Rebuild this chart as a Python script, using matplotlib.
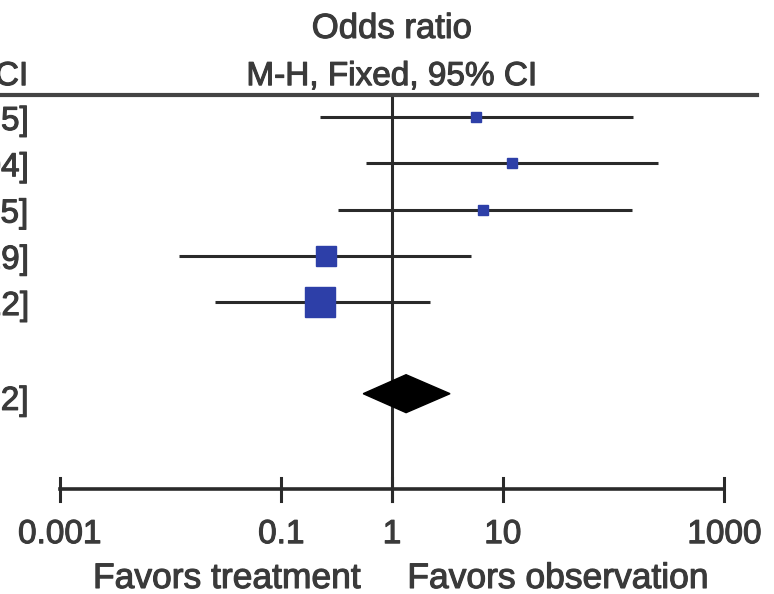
import matplotlib
matplotlib.use("Agg")
import matplotlib.pyplot as plt
from matplotlib.patches import Polygon
import matplotlib.patheffects as pe

# ---- data ----
estimates = [5.73, 12.1, 6.63, 0.254, 0.224]
ci_low = [0.224, 0.58, 0.326, 0.012, 0.0253]
ci_high = [150.0, 250.0, 147.0, 5.16, 2.2]
row_labels = ["5.73 [0.22, 148.25]", "12.10 [0.58, 249.04]", "6.63 [0.33, 146.35]",
              "0.25 [0.01, 5.19]", "0.22 [0.03, 2.22]"]
pooled = (1.34, 0.55, 3.34)
pooled_label = "1.34 [0.55, 3.32]"
tick_values = [0.001, 0.1, 1, 10, 1000]
tick_labels = ["0.001", "0.1", "1", "10", "1000"]
header_top = "Odds ratio"
header_sub = "M-H, Fixed, 95% CI"
left_header = "M-H, Fixed, 95% CI"
favors_left = "Favors treatment"
favors_right = "Favors observation"

# ---- style ----
marker_sizes = [6.5, 6.5, 6.5, 14.5, 22]
line_col = "#2a2a2a"
text_col = "#3a3a3a"
blue = "#2d3fa8"
font = "Liberation Sans"
fs = 24
effects = [pe.withStroke(linewidth=0.8, foreground=text_col)]
tkw = dict(fontsize=fs, color=text_col, family=font, path_effects=effects)
fkw = dict(tkw, fontsize=25.5)
hkw = dict(tkw, fontsize=25)

fig = plt.figure(figsize=(7.74, 5.94), dpi=100)
ax = fig.add_axes([0, 0, 1, 1])
ax.set_xscale("log")
ax.set_xlim(10 ** -3.538, 10 ** 3.448)
ax.set_ylim(10.31, -2.53)
ax.axis("off")
ytr = ax.get_yaxis_transform()

# rows
for i, (e, lo, hi) in enumerate(zip(estimates, ci_low, ci_high)):
    ax.plot([lo, hi], [i, i], color=line_col, lw=2.2, solid_capstyle="butt", zorder=2)
    ax.plot([e], [i], marker="s", ms=marker_sizes[i], color=blue, mec=blue, zorder=3)
    ax.text(0.037, i + 0.28, row_labels[i], transform=ytr, ha="right", va="baseline", **tkw)

# pooled diamond
py = 5.98
h = 0.41
est, lo, hi = pooled
ax.add_patch(Polygon([[lo, py], [est, py - h], [hi, py], [est, py + h]], closed=True,
                     facecolor="black", edgecolor="black", zorder=3))
ax.text(0.037, 6.33, pooled_label, transform=ytr, ha="right", va="baseline", **tkw)

# vertical line at 1
ax.plot([1, 1], [-0.48, 8.3], color=line_col, lw=2.2, zorder=1)

# header line
ax.axhline(-0.48, xmin=0, xmax=757 / 774, color="#444444", lw=3)

# headers
ax.text(1, -1.71, header_top, ha="center", va="baseline", **hkw)
ax.text(1, -0.69, header_sub, ha="center", va="baseline", **tkw)
ax.text(0.037, -0.69, left_header, transform=ytr, ha="right", va="baseline", **tkw)

# bottom axis
ax.plot([tick_values[0], tick_values[-1]], [8.05, 8.05], color=line_col, lw=2.6)
for tv, tl in zip(tick_values, tick_labels):
    ax.plot([tv, tv], [7.8, 8.3], color=line_col, lw=2.2)
    ax.text(tv, 9.21, tl, ha="center", va="baseline", **tkw)

ax.text(10 ** ((227 - 392) / 110.8), 10.18, favors_left, ha="center", va="baseline", **fkw)
ax.text(10 ** ((558 - 392) / 110.8), 10.18, favors_right, ha="center", va="baseline", **fkw)

fig.savefig("out.png", dpi=100, facecolor="white")
